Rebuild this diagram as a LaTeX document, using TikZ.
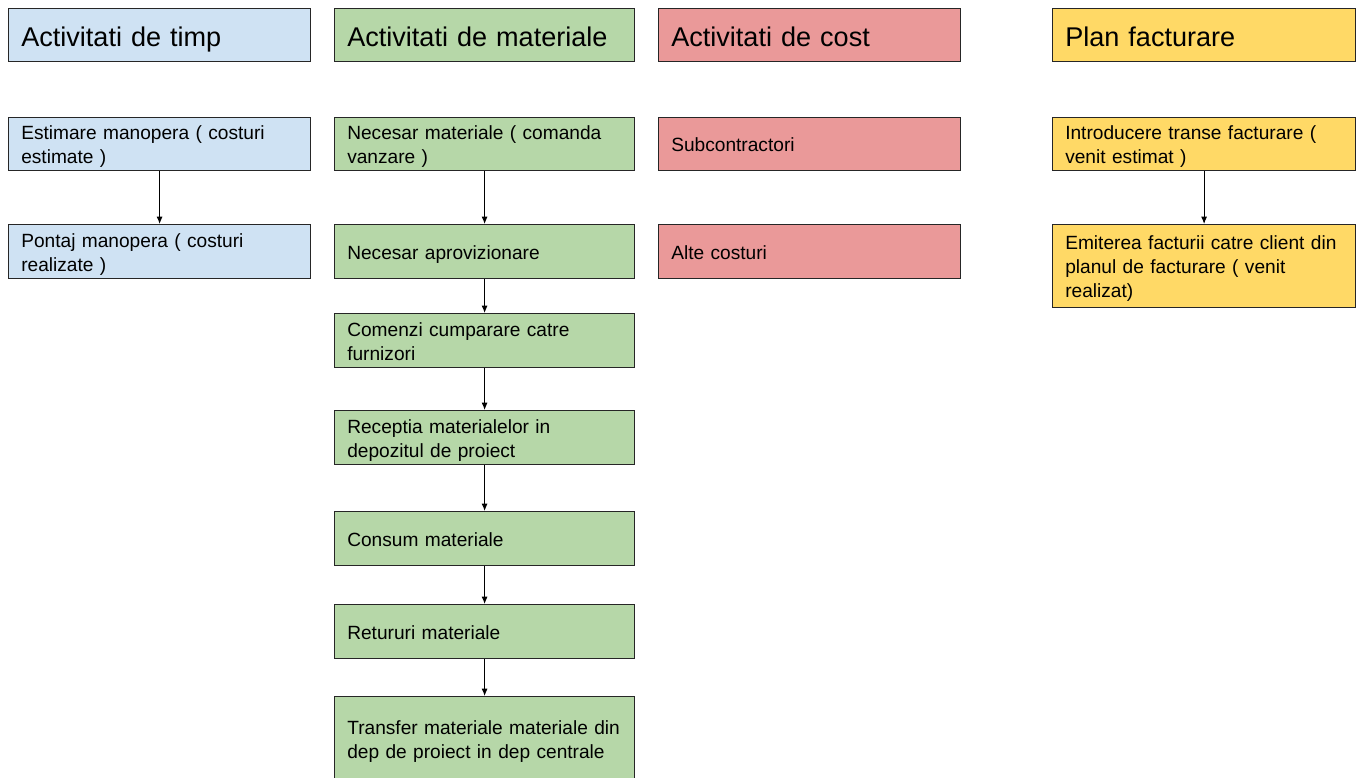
\documentclass[tikz,border=0pt]{standalone}
\usepackage{fontspec}
\setmainfont{Liberation Sans}
\usetikzlibrary{arrows.meta}
\definecolor{cblue}{HTML}{CFE2F3}
\definecolor{cgreen}{HTML}{B6D7A8}
\definecolor{cred}{HTML}{EA9999}
\definecolor{cyellow}{HTML}{FFD966}
\definecolor{cborder}{HTML}{262626}
\begin{document}
\begin{tikzpicture}[x=0.75pt,y=-0.75pt,
  box/.style={draw=cborder, line width=0.9pt, anchor=north west, inner xsep=9.5pt, inner ysep=0pt,
    align=left, font=\fontsize{14.35}{18}\selectfont,
    execute at begin node={\rule{0pt}{14.5pt}},
    execute at end node={\rule[-3pt]{0pt}{3pt}}},
  head/.style={box, font=\fontsize{20.3}{24}\selectfont, text height=19pt, text depth=1.75pt},
  wa/.style={minimum width=226.5pt, text width=207.5pt},
  wb/.style={minimum width=225pt, text width=206pt},
  wd/.style={minimum width=227.25pt, text width=208.25pt},
  hs/.style={minimum height=#1*0.75pt},
  blue/.style={box, fill=cblue, wa},
  green/.style={box, fill=cgreen, wb},
  red/.style={box, fill=cred, wa},
  yellow/.style={box, fill=cyellow, wd},
  arr/.style={-{Latex[length=5.5pt,width=4.5pt]}, line width=0.75pt, draw=black}]
\useasboundingbox (0,0) rectangle (1360,778);
% headers
\node[blue, head, hs=53] (h1) at (8,8) {Activitati de timp};
\node[green, head, hs=53] (h2) at (334,8) {Activitati de materiale};
\node[red, head, hs=53] (h3) at (658,8) {Activitati de cost};
\node[yellow, head, hs=53] (h4) at (1052,8) {Plan facturare};
% column 1
\node[blue, hs=53] (a1) at (8,117) {Estimare manopera ( costuri\\estimate )};
\node[blue, hs=54] (a2) at (8,224) {Pontaj manopera ( costuri\\realizate )};
% column 2
\node[green, hs=53] (b1) at (334,117) {Necesar materiale ( comanda\\vanzare )};
\node[green, hs=54] (b2) at (334,224) {Necesar aprovizionare};
\node[green, hs=54] (b3) at (334,313) {Comenzi cumparare catre\\furnizori};
\node[green, hs=54] (b4) at (334,410) {Receptia materialelor in\\depozitul de proiect};
\node[green, hs=54] (b5) at (334,511) {Consum materiale};
\node[green, hs=54] (b6) at (334,604) {Retururi materiale};
\node[green, hs=85] (b7) at (334,696) {\mbox{Transfer materiale materiale din}\\\mbox{dep de proiect in dep centrale}};
% column 3
\node[red, hs=53] (c1) at (658,117) {Subcontractori};
\node[red, hs=54] (c2) at (658,224) {Alte costuri};
% column 4
\node[yellow, hs=53] (d1) at (1052,117) {Introducere transe facturare (\\venit estimat )};
\node[yellow, hs=83] (d2) at (1052,224) {\mbox{Emiterea facturii catre client din}\\planul de facturare ( venit\\realizat)};
% connectors
\draw[arr] (a1.south) -- (a2.north);
\draw[arr] (b1.south) -- (b2.north);
\draw[arr] (b2.south) -- (b3.north);
\draw[arr] (b3.south) -- (b4.north);
\draw[arr] (b4.south) -- (b5.north);
\draw[arr] (b5.south) -- (b6.north);
\draw[arr] (b6.south) -- (b7.north);
\draw[arr] (d1.south) -- (d2.north);
\end{tikzpicture}
\end{document}
